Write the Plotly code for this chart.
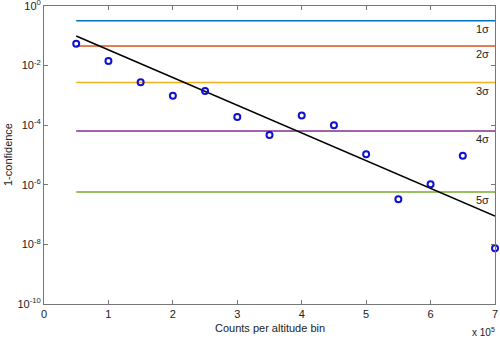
import math
import plotly.graph_objects as go

# Data
counts = [0.5e5, 1.0e5, 1.5e5, 2.0e5, 2.5e5, 3.0e5, 3.5e5, 4.0e5, 4.5e5, 5.0e5, 5.5e5, 6.0e5, 6.5e5, 7.0e5]
one_minus_conf = [0.054, 0.0143, 0.00275, 9.8e-4, 1.4e-3, 1.9e-4, 4.7e-5, 2.1e-4, 1.0e-4, 1.05e-5, 3.3e-7, 1.04e-6, 9.5e-6, 7.4e-9]
fit_x = [0.5e5, 7.0e5]
fit_y = [0.098, 8.9e-8]
sigma_labels = ["1σ", "2σ", "3σ", "4σ", "5σ"]
sigma_values = [0.3173, 0.0455, 0.0027, 6.33e-5, 5.73e-7]
sigma_colors = ["#0072BD", "#D95319", "#EDB120", "#7E2F8E", "#77AC30"]
sigma_x = [0.5e5, 7.0e5]
xtick_vals = [0, 1e5, 2e5, 3e5, 4e5, 5e5, 6e5, 7e5]
xtick_text = ["0", "1", "2", "3", "4", "5", "6", "7"]
ytick_vals = [1, 1e-2, 1e-4, 1e-6, 1e-8, 1e-10]
ytick_text = ["10<sup>0</sup>", "10<sup>-2</sup>", "10<sup>-4</sup>", "10<sup>-6</sup>", "10<sup>-8</sup>", "10<sup>-10</sup>"]

fig = go.Figure()
for lab, val, col in zip(sigma_labels, sigma_values, sigma_colors):
    fig.add_trace(go.Scatter(x=sigma_x, y=[val, val], mode="lines",
                             line=dict(color=col, width=1.5), showlegend=False, hoverinfo="skip"))
    fig.add_annotation(x=6.8e5, y=math.log10(val), yref="y", xref="x", text=lab, showarrow=False,
                       yshift=-8, font=dict(size=11, color="#222"), xanchor="center")

fig.add_trace(go.Scatter(x=fit_x, y=fit_y, mode="lines", line=dict(color="black", width=1.5),
                         showlegend=False))
fig.add_trace(go.Scatter(x=counts, y=one_minus_conf, mode="markers", cliponaxis=False,
                         marker=dict(symbol="circle-open", size=6, color="#1010D0",
                                     line=dict(width=2, color="#1010D0")),
                         showlegend=False))

fig.add_annotation(xref="paper", yref="paper", x=0.975, y=0, yshift=-28, text="x 10<sup>5</sup>",
                   showarrow=False, font=dict(size=10, color="#222"), xanchor="center", yanchor="middle")
fig.add_annotation(xref="paper", yref="paper", x=0.5, y=0, yshift=-24, text="Counts per altitude bin",
                   showarrow=False, font=dict(size=11, color="#222"), xanchor="center", yanchor="middle")
fig.add_annotation(xref="paper", yref="paper", x=0, y=0.5, xshift=-36, text="1-confidence", textangle=-90,
                   showarrow=False, font=dict(size=11, color="#222"), xanchor="center", yanchor="middle")

axis_common = dict(showline=True, linecolor="#777", linewidth=1, mirror="ticks",
                   ticks="inside", ticklen=4, tickcolor="#777", showgrid=False, zeroline=False,
                   tickfont=dict(size=11, color="#222"), automargin=False, ticklabeloverflow="allow")
fig.update_xaxes(range=[0, 7e5], tickvals=xtick_vals, ticktext=xtick_text, **axis_common)
fig.update_yaxes(type="log", range=[-10, 0], tickvals=ytick_vals, ticktext=ytick_text, **axis_common)

fig.update_layout(width=500, height=339, margin=dict(l=44, r=5, t=6, b=35),
                  plot_bgcolor="white", paper_bgcolor="white",
                  font=dict(family="Liberation Sans, Arial, sans-serif"))
fig.write_html("out.html", config={"displayModeBar": False},
               post_script="document.body.style.margin='0';document.body.style.overflow='hidden';")
